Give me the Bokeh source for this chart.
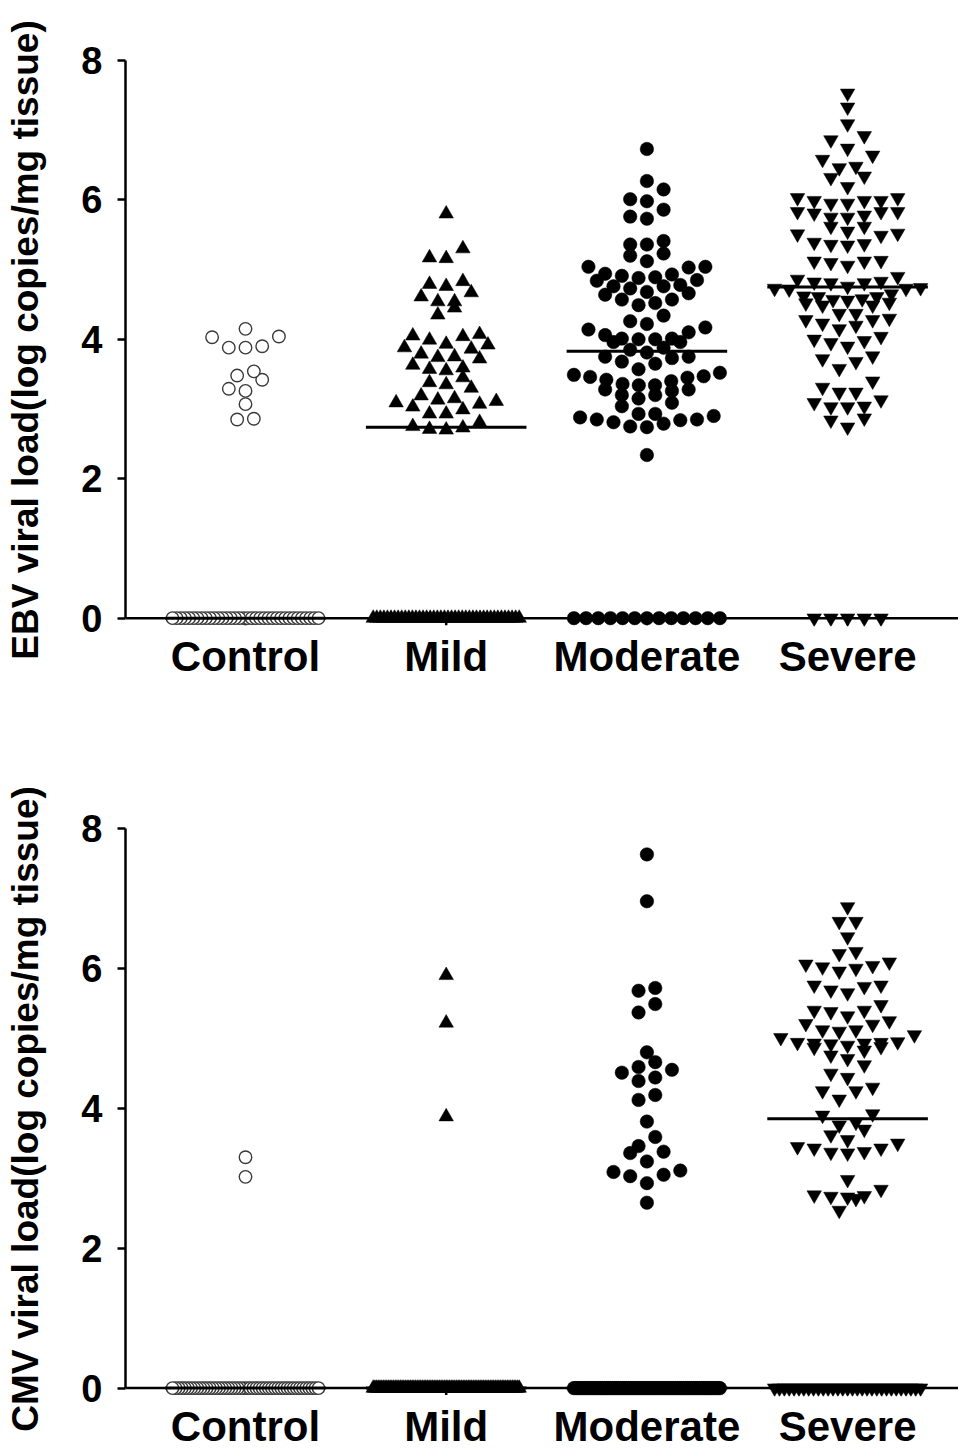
import numpy as np
from bokeh.plotting import figure
from bokeh.models import Span, FixedTicker, Range1d
from bokeh.layouts import column
from bokeh.embed import file_html
from bokeh.resources import INLINE

# ---------------- data (log copies / mg tissue) ----------------
categories = ["Control", "Mild", "Moderate", "Severe"]
y_ticks = [0, 2, 4, 6, 8]

ebv_control = [4.04, 4.15, 4.03, 3.90, 3.88, 3.88, 3.54, 3.48, 3.42, 3.26, 3.29, 3.07, 2.85, 2.86]
ebv_control_zeros = 36
ebv_mild = [5.80, 5.30, 5.17, 5.16, 4.83, 4.76, 4.79, 4.67, 4.61, 4.54, 4.54, 4.45, 4.35, 4.07,
            4.04, 4.05, 3.99, 3.92, 3.93, 3.86, 3.88, 3.79, 3.75, 3.72, 3.74, 3.63, 3.59, 3.57,
            3.55, 3.45, 3.35, 3.38, 3.30, 3.15, 3.11, 3.19, 3.07, 3.13, 3.09, 2.99, 3.03, 2.93,
            2.93, 2.81, 2.75, 2.71, 2.70, 2.73]
ebv_mild_zeros = 42
ebv_moderate = [6.73, 6.27, 6.15, 6.01, 5.98, 5.86, 5.73, 5.76, 5.36, 5.36, 5.41, 5.23, 5.20, 5.04,
                5.03, 5.04, 5.12, 4.88, 4.84, 4.93, 4.89, 4.91, 4.94, 4.85, 4.76, 4.73, 4.76, 4.78,
                4.66, 4.64, 4.68, 4.57, 4.52, 4.57, 4.49, 4.34, 4.26, 4.17, 4.22, 4.10, 4.14, 4.06,
                4.01, 4.00, 3.96, 3.96, 4.00, 4.01, 3.88, 3.85, 3.81, 3.75, 3.73, 3.75, 3.65, 3.68,
                3.57, 3.49, 3.46, 3.42, 3.36, 3.34, 3.28, 3.28, 3.34, 3.40, 3.45, 3.47, 3.52, 3.26,
                3.20, 3.09, 3.04, 3.15, 3.20, 2.93, 2.90, 2.85, 2.84, 2.79, 2.74, 2.75, 2.81, 2.85,
                2.88, 2.93, 2.34]
ebv_moderate_zeros = 13
ebv_severe = [7.53, 7.33, 7.09, 6.86, 6.92, 6.74, 6.64, 6.58, 6.46, 6.48, 6.32, 6.34, 6.19, 6.03,
              5.99, 5.99, 5.95, 5.95, 5.99, 6.03, 5.83, 5.81, 5.75, 5.75, 5.78, 5.83, 5.83, 5.62,
              5.62, 5.52, 5.49, 5.51, 5.55, 5.37, 5.35, 5.36, 5.39, 5.13, 5.10, 5.06, 5.12, 5.12,
              4.90, 4.86, 4.82, 4.81, 4.76, 4.74, 4.73, 4.72, 4.73, 4.81, 4.83, 4.62, 4.61, 4.57,
              4.53, 4.49, 4.49, 4.52, 4.56, 4.58, 4.61, 4.65, 4.37, 4.28, 4.23, 4.15, 4.20, 4.28,
              4.30, 4.37, 4.00, 3.95, 3.90, 3.98, 4.04, 3.72, 3.68, 3.76, 3.58, 3.40, 3.31, 3.24,
              3.24, 3.13, 3.09, 3.04, 3.03, 3.03, 2.84, 2.87, 2.74]
ebv_severe_zeros = 5

cmv_control = [3.30, 3.02]
cmv_control_zeros = 48
cmv_mild = [5.90, 5.22, 3.88]
cmv_mild_zeros = 87
cmv_moderate = [7.63, 6.96, 5.72, 5.68, 5.49, 5.37, 4.80, 4.66, 4.59, 4.55, 4.51, 4.44, 4.39, 4.19,
                4.12, 3.81, 3.59, 3.46, 3.36, 3.38, 3.24, 3.11, 3.05, 3.09, 3.03, 2.93, 2.65]
cmv_moderate_zeros = 73
cmv_severe = [6.88, 6.67, 6.67, 6.45, 6.24, 6.21, 6.06, 6.02, 5.96, 6.00, 6.04, 6.09, 5.76, 5.69,
              5.65, 5.74, 5.76, 5.40, 5.38, 5.25, 5.32, 5.40, 5.48, 5.20, 5.10, 5.01, 5.12, 5.05,
              5.12, 5.21, 4.94, 4.92, 4.90, 4.88, 4.83, 4.87, 4.93, 4.93, 4.94, 4.95, 4.71, 4.76,
              4.62, 4.50, 4.44, 4.25, 4.25, 4.30, 4.13, 3.92, 3.90, 3.80, 3.76, 3.70, 3.62, 3.55,
              3.45, 3.43, 3.37, 3.36, 3.38, 3.43, 3.50, 2.98, 2.84, 2.76, 2.74, 2.71, 2.73, 2.75,
              2.54]
cmv_severe_zeros = 31

# ---------------- styling / layout constants ----------------
FONT = "Liberation Sans"
FIG_W = 958
LEFT = 125
PX_PER_X = 200.7          # pixels per category unit
FRAME_W = FIG_W - LEFT
X_START = 1 - 120 / PX_PER_X
X_END = X_START + FRAME_W / PX_PER_X
Y_START, Y_END = -0.12, 8.1
DOT_DX_PX = 16.7           # horizontal spacing between neighbours in a row
ROW_H_PX = 13.0            # row (bin) height in pixels
MAX_HALF_PX = 73.0         # max half-width of a row
MEDIAN_HALF = 0.40


def swarm(values, center, px_per_y):
    """Prism-like scatter-dot layout: bin values into rows, spread each row."""
    vals = np.sort(np.asarray(values, dtype=float))
    dx = DOT_DX_PX / PX_PER_X
    maxhalf = MAX_HALF_PX / PX_PER_X
    binh = ROW_H_PX / px_per_y
    xs, ys = [], []
    i = 0
    while i < len(vals):
        j = i
        while j < len(vals) and vals[j] - vals[i] < binh:
            j += 1
        row = vals[i:j]
        n = len(row)
        step = dx
        if n > 1 and (n - 1) * dx > 2 * maxhalf:
            step = 2 * maxhalf / (n - 1)
        slots = sorted(range(n), key=lambda k: (abs(k - (n - 1) / 2), k))
        for v, k in zip(row, slots):
            xs.append(center + (k - (n - 1) / 2) * step)
            ys.append(v)
        i = j
    return xs, ys


def make_panel(title, groups, border_top, border_bottom, px_per_y):
    frame_h = (Y_END - Y_START) * px_per_y
    h = int(round(border_top + frame_h + border_bottom))
    p = figure(width=FIG_W, height=h, output_backend="svg", toolbar_location=None,
               x_range=Range1d(X_START, X_END), y_range=Range1d(Y_START, Y_END),
               min_border_left=LEFT, min_border_right=0,
               min_border_top=border_top, min_border_bottom=border_bottom)
    p.outline_line_color = None
    p.grid.visible = False
    p.background_fill_color = "white"

    # zero baseline (x axis line)
    base = Span(location=0, dimension="width", line_color="black", line_width=2.5, level="underlay")
    p.add_layout(base)

    centers = list(range(1, len(categories) + 1))
    # small category ticks below the baseline
    p.segment(x0=centers, x1=centers, y0=[0] * len(centers),
              y1=[-7 / px_per_y] * len(centers), line_color="black", line_width=2.5,
              level="underlay")

    for c, (vals, nz, marker) in zip(centers, groups):
        allv = list(vals) + [0.0] * nz
        xs, ys = swarm(allv, c, px_per_y)
        if marker == "open":
            p.scatter(xs, ys, marker="circle", size=12.5, fill_color="white",
                      line_color="#3a3a3a", line_width=1.4)
        elif marker == "circle":
            p.scatter(xs, ys, marker="circle", size=13.5, fill_color="black",
                      line_color="black", line_width=0.5)
        else:
            p.scatter(xs, ys, marker=marker, size=14.5, fill_color="black",
                      line_color="black", line_width=0.5)
        med = float(np.median(allv))
        p.segment(x0=[c - MEDIAN_HALF], x1=[c + MEDIAN_HALF], y0=[med], y1=[med],
                  line_color="black", line_width=3)

    # y axis
    ya = p.yaxis[0]
    ya.ticker = FixedTicker(ticks=y_ticks)
    ya.bounds = (0, 8)
    ya.minor_tick_line_color = None
    ya.axis_line_width = 2.5
    ya.major_tick_line_width = 2.5
    ya.major_tick_out = 8
    ya.major_tick_in = 0
    ya.major_label_text_font = FONT
    ya.major_label_text_font_style = "bold"
    ya.major_label_text_font_size = "38px"
    ya.major_label_text_color = "black"
    ya.major_label_standoff = 15
    ya.axis_label = title
    ya.axis_label_text_font = FONT
    ya.axis_label_text_font_style = "bold"
    ya.axis_label_text_font_size = "37px"
    ya.axis_label_text_color = "black"
    ya.axis_label_standoff = 32

    # x axis: category labels only
    xa = p.xaxis[0]
    xa.ticker = FixedTicker(ticks=centers)
    xa.major_label_overrides = {c: name for c, name in zip(centers, categories)}
    xa.axis_line_color = None
    xa.major_tick_line_color = None
    xa.minor_tick_line_color = None
    xa.major_label_text_font = FONT
    xa.major_label_text_font_style = "bold"
    xa.major_label_text_font_size = "42px"
    xa.major_label_text_color = "black"
    xa.major_label_standoff = 0
    return p


top = make_panel("EBV viral load(log copies/mg tissue)",
                 [(ebv_control, ebv_control_zeros, "open"),
                  (ebv_mild, ebv_mild_zeros, "triangle"),
                  (ebv_moderate, ebv_moderate_zeros, "circle"),
                  (ebv_severe, ebv_severe_zeros, "inverted_triangle")],
                 border_top=53, border_bottom=58, px_per_y=69.75)
bottom = make_panel("CMV viral load(log copies/mg tissue)",
                    [(cmv_control, cmv_control_zeros, "open"),
                     (cmv_mild, cmv_mild_zeros, "triangle"),
                     (cmv_moderate, cmv_moderate_zeros, "circle"),
                     (cmv_severe, cmv_severe_zeros, "inverted_triangle")],
                    border_top=137, border_bottom=56, px_per_y=70.0)

layout = column(top, bottom, spacing=0)
open("out.html", "w").write(file_html(layout, INLINE))
